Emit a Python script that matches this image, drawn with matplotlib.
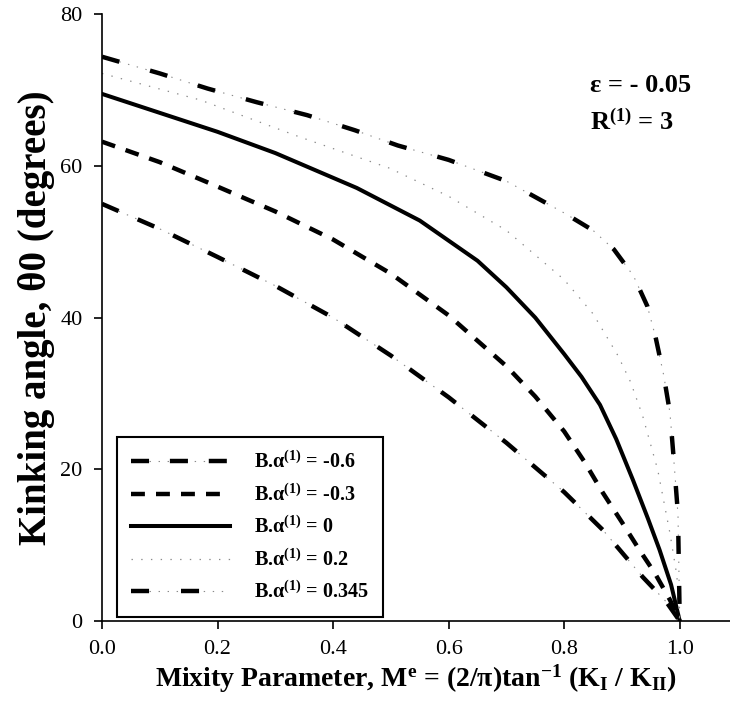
import matplotlib
matplotlib.use('Agg')
import matplotlib.pyplot as plt
from matplotlib.lines import Line2D
from matplotlib.legend_handler import HandlerTuple

# values
x_m06 = [0, 0.1, 0.2, 0.3, 0.4, 0.5, 0.6, 0.7, 0.8, 0.867, 0.936, 0.977, 1.0]
y_m06 = [55, 51.7, 48, 44.2, 40, 35, 29.5, 23.5, 17, 12, 5.8, 2.5, 0]

x_m03 = [0, 0.1, 0.187, 0.3, 0.4, 0.5, 0.6, 0.7, 0.75, 0.8, 0.835, 0.867, 0.901,
         0.93, 0.957, 0.983, 1.0]
y_m03 = [63.2, 60.5, 57.7, 54, 50.3, 45.8, 40.3, 33.6, 29.6, 25, 21, 16.9, 12.9,
         9.4, 6.3, 2.8, 0]

x_0 = [0, 0.1, 0.2, 0.3, 0.441, 0.55, 0.65, 0.7, 0.75, 0.8, 0.83, 0.862, 0.89,
       0.919, 0.945, 0.965, 0.985, 1.0]
y_0 = [69.5, 67, 64.5, 61.7, 57.1, 52.8, 47.5, 44, 40, 35.2, 32.2, 28.5, 24,
       18.6, 13.5, 9.4, 4.8, 0]

x_02 = [0, 0.17, 0.343, 0.498, 0.6, 0.7, 0.8, 0.85, 0.893, 0.915, 0.936, 0.962,
        0.983, 0.995, 1.0]
y_02 = [72.2, 68.7, 63.8, 59.7, 56, 51.5, 45, 40.5, 35, 31.5, 27, 19.9, 11.6, 6, 0]

x_0345 = [0, 0.1, 0.183, 0.268, 0.355, 0.438, 0.512, 0.6, 0.7, 0.8, 0.85, 0.886,
          0.92, 0.944, 0.958, 0.972, 0.983, 0.99, 0.997, 1.0]
y_0345 = [74.4, 72.2, 70.2, 68.4, 66.7, 64.7, 62.7, 60.8, 58, 53.8, 51.5, 49,
          45.5, 41.5, 37.5, 32.5, 27.5, 21, 14, 0]

labels = ['-0.6', '-0.3', '0', '0.2', '0.345']
xticks = [0.0, 0.2, 0.4, 0.6, 0.8, 1.0]
yticks = [0, 20, 40, 60, 80]

plt.rcParams['font.family'] = 'Liberation Serif'
plt.rcParams['mathtext.fontset'] = 'custom'
plt.rcParams['mathtext.rm'] = 'Liberation Serif'
plt.rcParams['mathtext.bf'] = 'Liberation Serif:bold'
plt.rcParams['mathtext.default'] = 'bf'
plt.rcParams['lines.scale_dashes'] = False

fig = plt.figure(figsize=(7.3, 7.13), dpi=100)
ax = fig.add_axes([0.1397, 0.129, 0.8603, 0.851])

gray = '#8a8a8a'
blk_lw = 3.2
ls_dots = (0, (1, 5.5))
ls_m06 = (0, (13, 15))
ls_m03 = (0, (10, 8))
ls_0345 = (0, (13, 23))

# B.a = -0.6 : dash-dot
ax.plot(x_m06, y_m06, color=gray, lw=0.8, ls=ls_dots)
ax.plot(x_m06, y_m06, color='black', lw=blk_lw, ls=ls_m06)
# B.a = -0.3 : dashed
ax.plot(x_m03, y_m03, color='black', lw=blk_lw, ls=ls_m03)
# B.a = 0 : solid
ax.plot(x_0, y_0, color='black', lw=2.9)
# B.a = 0.2 : dotted gray
ax.plot(x_02, y_02, color=gray, lw=0.9, ls=(0, (1, 6)))
# B.a = 0.345 : dash-dot-dot
ax.plot(x_0345, y_0345, color=gray, lw=0.8, ls=ls_dots)
ax.plot(x_0345, y_0345, color='black', lw=blk_lw, ls=ls_0345)

# legend proxies
def proxy(color, lw, ls):
    return Line2D([], [], color=color, lw=lw, ls=ls)

handles = [(proxy(gray, 0.8, ls_dots), proxy('black', blk_lw, ls_m06)),
           proxy('black', blk_lw, ls_m03),
           proxy('black', 2.9, '-'),
           proxy(gray, 0.9, (0, (1, 6))),
           (proxy(gray, 0.8, ls_dots), proxy('black', blk_lw, ls_0345))]
leg_labels = ['B.α$^{(1)}$ = ' + l for l in labels]
leg = ax.legend(handles, leg_labels, loc='lower left', bbox_to_anchor=(0.024, 0.006),
                borderaxespad=0, handler_map={tuple: HandlerTuple(ndivide=1)},
                prop={'weight': 'bold', 'size': 14.5}, handlelength=4.9,
                handletextpad=1.2, labelspacing=0.55, fancybox=False,
                edgecolor='black', framealpha=1, borderpad=0.7)
leg.get_frame().set_linewidth(1.5)

ax.text(0.844, 70.6, 'ε = - 0.05', fontsize=19, fontweight='bold', va='center')
ax.text(0.844, 65.8, 'R$^{(1)}$ = 3', fontsize=19, fontweight='bold', va='center')

ax.set_xlim(0, 1.087)
ax.set_ylim(0, 80)
ax.set_xticks(xticks)
ax.set_xticklabels(['%.1f' % t for t in xticks])
ax.set_yticks(yticks)
ax.tick_params(direction='out', length=6, width=1.2, labelsize=16, pad=8)
ax.spines['top'].set_visible(False)
ax.spines['right'].set_visible(False)
ax.spines['left'].set_linewidth(1.2)
ax.spines['bottom'].set_linewidth(1.2)

ax.set_xlabel('Mixity Parameter, M$^{e}$ = (2/π)tan$^{-1}$ (K$_{I}$ / K$_{II}$)',
              fontsize=20, fontweight='bold', labelpad=2)
ax.set_ylabel('Kinking angle, θ0 (degrees)', fontsize=28, fontweight='bold', labelpad=4)

fig.savefig('out.png', dpi=100)
